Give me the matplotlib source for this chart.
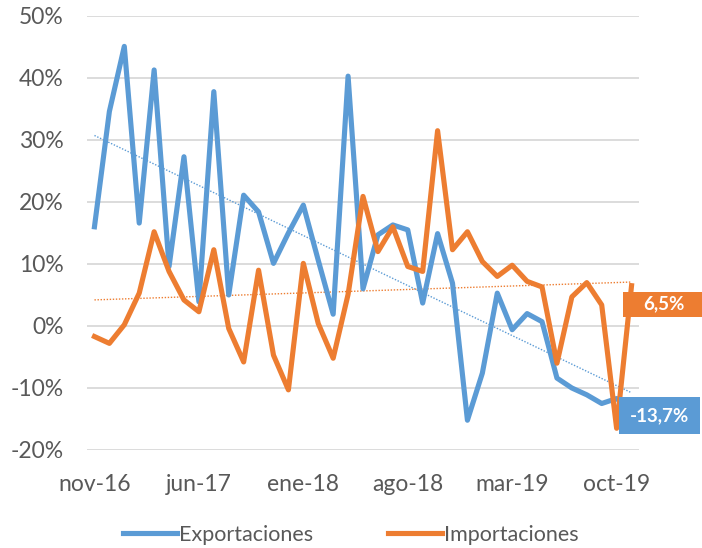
import numpy as np
import matplotlib
matplotlib.use("Agg")
import matplotlib.pyplot as plt
from matplotlib.patches import Rectangle
from matplotlib.transforms import IdentityTransform

months = ["nov-16","dic-16","ene-17","feb-17","mar-17","abr-17","may-17","jun-17","jul-17","ago-17",
          "sep-17","oct-17","nov-17","dic-17","ene-18","feb-18","mar-18","abr-18","may-18","jun-18",
          "jul-18","ago-18","sep-18","oct-18","nov-18","dic-18","ene-19","feb-19","mar-19","abr-19",
          "may-19","jun-19","jul-19","ago-19","sep-19","oct-19","nov-19"]

exportaciones = [16.0, 34.6, 45.1, 16.6, 41.3, 9.6, 27.3, 3.9, 37.8, 5.0,
                 21.1, 18.4, 10.1, 15.0, 19.5, 10.6, 1.9, 40.3, 6.0, 14.7,
                 16.3, 15.5, 3.7, 14.9, 6.9, -15.2, -7.6, 5.3, -0.6, 2.0,
                 0.7, -8.4, -10.0, -11.1, -12.5, -11.7, -13.7]

importaciones = [-1.7, -2.8, 0.2, 5.3, 15.2, 8.8, 4.2, 2.3, 12.3, -0.4,
                 -5.8, 9.0, -4.7, -10.3, 10.1, 0.4, -5.2, 5.1, 20.9, 12.0,
                 16.0, 9.6, 8.8, 31.5, 12.3, 15.2, 10.4, 8.0, 9.8, 7.2,
                 6.3, -6.0, 4.7, 7.0, 3.4, -16.5, 6.5]

yticks = [-20, -10, 0, 10, 20, 30, 40, 50]
tick_idx = [0, 7, 14, 21, 28, 35]

blue = "#5B9BD5"
orange = "#ED7D31"
gray = "#595959"

plt.rcParams['font.family'] = ['Lato', 'DejaVu Sans']

fig = plt.figure(figsize=(7.02, 5.48), dpi=100)
ax = fig.add_axes([87/702, 98/548, 552/702, 434/548])

x = np.arange(len(months))
ax.set_xlim(-0.5, len(months) - 0.5)
ax.set_ylim(-20, 50)

for v in yticks:
    ax.axhline(v, color="#D9D9D9", lw=1.3, zorder=0)

ax.plot(x, exportaciones, color=blue, lw=3.7, solid_joinstyle="round", zorder=3, label="Exportaciones")
ax.plot(x, importaciones, color=orange, lw=3.7, solid_joinstyle="round", zorder=3, label="Importaciones")

# linear trendlines
for ser, col in [(exportaciones, blue), (importaciones, orange)]:
    p = np.polyfit(x, ser, 1)
    ax.plot(x, np.polyval(p, x), color=col, lw=1.0, ls=(0, (1, 1.2)), zorder=2)

for s in ax.spines.values():
    s.set_visible(False)
ax.set_yticks(yticks)
ax.set_yticklabels([f"{v}%" for v in yticks])
ax.set_xticks(tick_idx)
ax.set_xticklabels([months[i] for i in tick_idx])
ax.tick_params(axis="both", length=0, colors=gray, labelsize=16.5)
ax.tick_params(axis="x", pad=17)
ax.tick_params(axis="y", pad=17)

# data labels
def fmt(v):
    return f"{v:.1f}%".replace(".", ",")

ident = IdentityTransform()
labels = [
    (importaciones[-1], orange, (-9, 70, -31, -6), (32.5, -18.5)),
    (exportaciones[-1], blue, (-13, 68, -23, 14), (27.5, -4.5)),
]
for val, col, (x0, x1, y0, y1), (tx, ty) in labels:
    px, py = ax.transData.transform((x[-1], val))
    fig.add_artist(Rectangle((px + x0, py + y0), x1 - x0, y1 - y0, transform=ident,
                             facecolor=col, edgecolor="none", zorder=5, clip_on=False))
    fig.text(px + tx, py + ty, fmt(val), transform=ident, ha="center", va="center",
             color="white", fontsize=13.5, fontweight="bold", zorder=6)

leg = fig.legend(loc="center", bbox_to_anchor=(0.5, 1 - 535/548), ncol=2, frameon=False,
                 fontsize=15.5, handlelength=2.5, handletextpad=0.1, columnspacing=3.5,
                 labelcolor=gray)

fig.savefig("out.png", dpi=100)
